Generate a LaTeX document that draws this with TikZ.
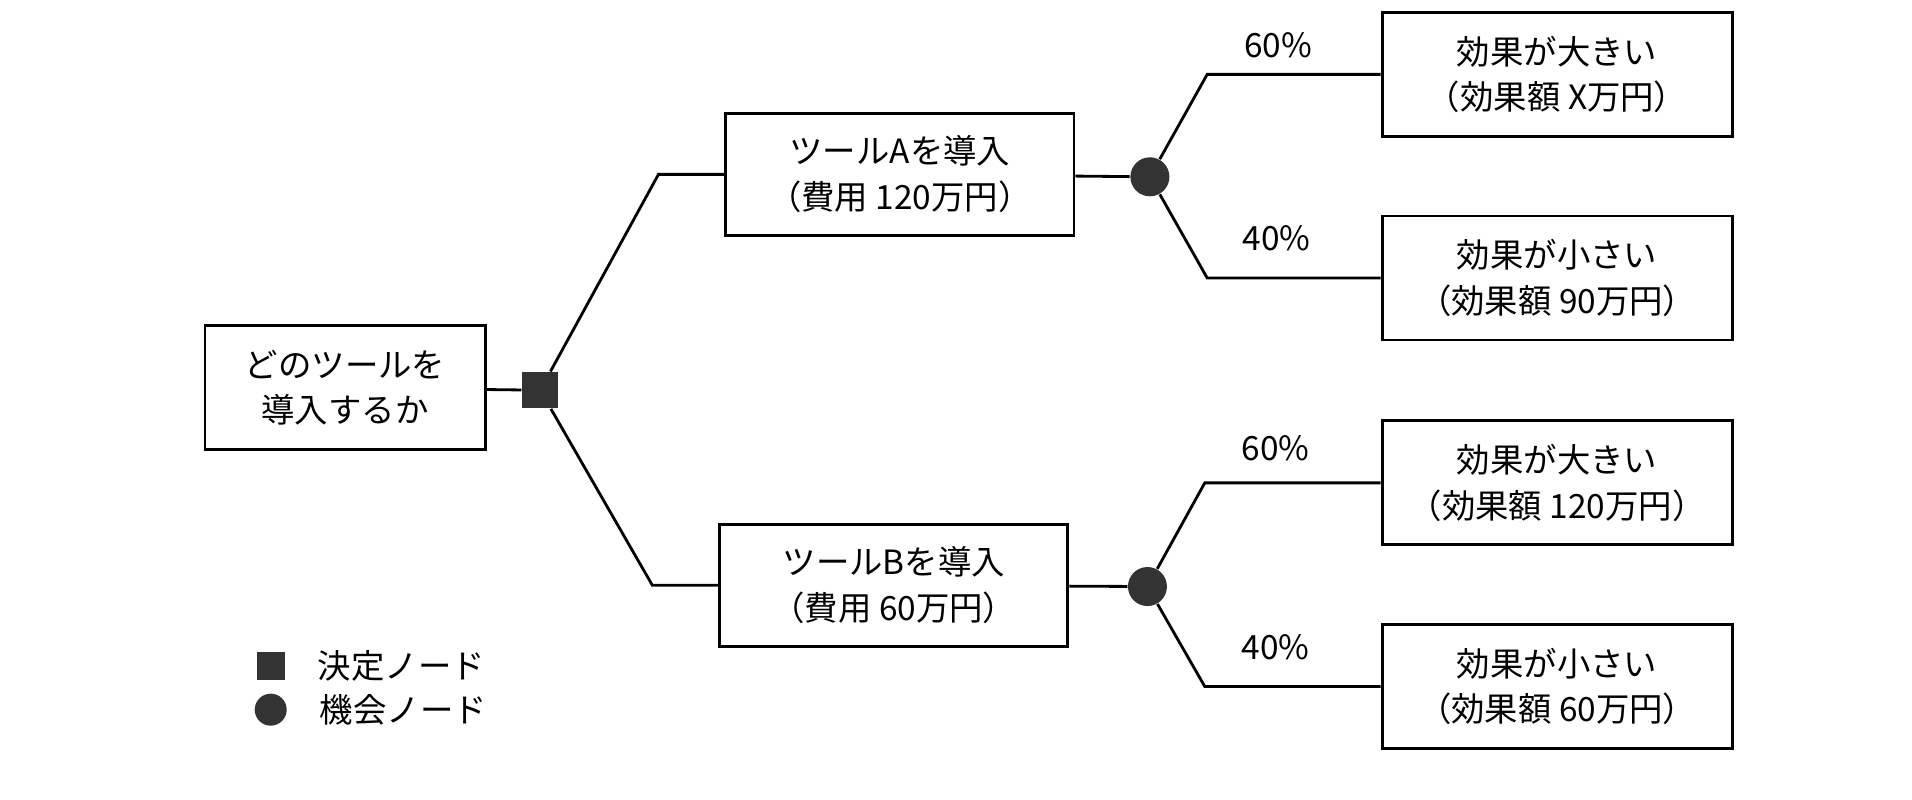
\documentclass[tikz,border=0pt]{standalone}
\usepackage{fontspec}
\setmainfont{Noto Sans CJK JP}
\usetikzlibrary{positioning}

\begin{document}
\begin{tikzpicture}[x=0.012194cm, y=-0.012194cm,
    font=\fontsize{9.5}{13}\selectfont,
    box/.style={draw, thick, align=center, inner sep=0pt},
    dec/.style={fill=black!80, minimum size=0.36cm, inner sep=0pt},
    chance/.style={circle, fill=black!80, minimum size=0.39cm, inner sep=0pt}]
        \useasboundingbox (0,0) rectangle (1568,656);
        % Nodes
        \node (root) at (283,318) [box, minimum width=2.8cm, minimum height=1.24cm] {どのツールを\\導入するか};
        \node (dn) at (443,320) [dec] {};
        \node (ta) at (738,143) [box, minimum width=3.48cm, minimum height=1.22cm] {ツールAを導入\\（費用 120万円）};
        \node (tb) at (733,480) [box, minimum width=3.48cm, minimum height=1.22cm] {ツールBを導入\\（費用 60万円）};
        \node (ca) at (943,145) [chance] {};
        \node (cb) at (941,481) [chance] {};
        \node (a1) at (1277,61) [box, minimum width=3.5cm, minimum height=1.24cm] {効果が大きい\\（効果額 X万円）};
        \node (a2) at (1277,228) [box, minimum width=3.5cm, minimum height=1.24cm] {効果が小さい\\（効果額 90万円）};
        \node (b1) at (1277,396) [box, minimum width=3.5cm, minimum height=1.24cm] {効果が大きい\\（効果額 120万円）};
        \node (b2) at (1277,563) [box, minimum width=3.5cm, minimum height=1.24cm] {効果が小さい\\（効果額 60万円）};
        % Labels
        \node (p1) at (1048,37) {60\%};
        \node (p2) at (1047,195) {40\%};
        \node (p3) at (1046,368) {60\%};
        \node (p4) at (1046,531) {40\%};
        % Legend
        \node (ld) at (222,546) [dec, minimum size=0.28cm] {};
        \node (lc) at (222,582) [chance, minimum size=0.32cm] {};
        \node (ldt) [right=0.2cm of ld] {決定ノード};
        \node (lct) [right=0.2cm of lc] {機会ノード};
        % Edges
        \draw[thick] (root) -- (dn);
        \draw[thick] (dn) -- (540,143) -- (ta);
        \draw[thick] (dn) -- (535,480) -- (tb);
        \draw[thick] (ta) -- (ca);
        \draw[thick] (tb) -- (cb);
        \draw[thick] (ca) -- (990,61) -- (a1);
        \draw[thick] (ca) -- (990,228) -- (a2);
        \draw[thick] (cb) -- (988,396) -- (b1);
        \draw[thick] (cb) -- (988,563) -- (b2);
\end{tikzpicture}
\end{document}
